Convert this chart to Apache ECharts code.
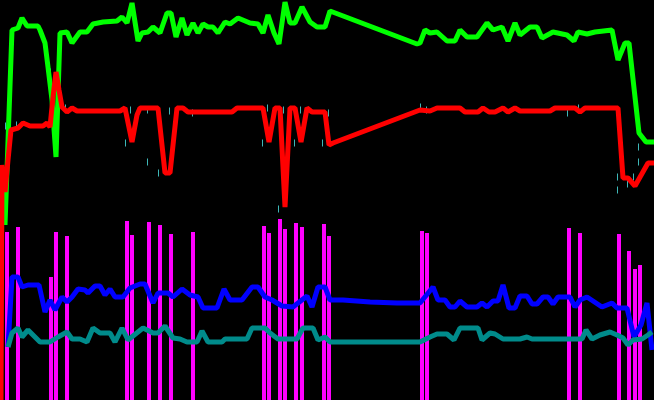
<!DOCTYPE html>
<html>
<head>
<meta charset="utf-8">
<script src="https://cdn.jsdelivr.net/npm/echarts@6/dist/echarts.min.js"></script>
<style>
  html, body { margin: 0; padding: 0; background: #000; }
  #main { width: 654px; height: 400px; }
</style>
</head>
<body>
<div id="main"></div>
<script>
// [x, value] pairs
var greenData = [
  [5, 175], [12, 370], [18, 372], [22, 382], [27, 374], [38, 374], [40, 370], [45, 357],
  [48, 333], [52, 300], [56, 243], [60, 367], [67, 368], [72, 357], [80, 368], [87, 368],
  [93, 376], [103, 378], [117, 379], [122, 383], [127, 377], [132, 397], [138, 359], [142, 367],
  [148, 368], [153, 373], [160, 367], [167, 387], [171, 387], [176, 363], [182, 382], [187, 365],
  [193, 377], [198, 367], [203, 376], [208, 373], [213, 373], [218, 367], [225, 378], [230, 376],
  [238, 382], [250, 377], [258, 376], [263, 367], [268, 385], [274, 367], [279, 356], [285, 398],
  [290, 377], [295, 377], [302, 393], [310, 378], [317, 373], [325, 373], [330, 389], [417, 356],
  [420, 357], [425, 370], [430, 367], [437, 368], [447, 359], [455, 359], [460, 370], [467, 363],
  [477, 363], [487, 377], [493, 370], [502, 373], [508, 359], [515, 377], [520, 365], [530, 373],
  [537, 373], [542, 362], [553, 368], [567, 365], [574, 359], [578, 368], [587, 366], [595, 368],
  [612, 370], [618, 340], [625, 357], [629, 357], [639, 267], [646, 258], [654, 258]
];

var redData = [
  [1, 0], [2, 235], [5, 208], [8, 240], [11, 270], [18, 272], [23, 277], [30, 274],
  [43, 274], [47, 277], [50, 273], [53, 303], [56, 328], [59, 310], [62, 293], [67, 288],
  [72, 292], [77, 289], [120, 289], [125, 292], [132, 258], [137, 285], [140, 292], [158, 292],
  [165, 227], [170, 227], [177, 292], [183, 292], [188, 288], [232, 288], [237, 292], [263, 292],
  [269, 258], [275, 292], [280, 292], [285, 193], [290, 292], [295, 292], [301, 258], [307, 292],
  [312, 288], [325, 288], [329, 255], [333, 257], [420, 290], [430, 289], [437, 292], [460, 292],
  [465, 288], [478, 288], [483, 292], [489, 288], [495, 288], [503, 292], [508, 288], [515, 292],
  [520, 289], [550, 289], [555, 292], [575, 292], [580, 288], [585, 292], [618, 292], [623, 222],
  [628, 222], [635, 214], [648, 237], [654, 237]
];

var blueData = [
  [8, 53], [12, 123], [18, 123], [22, 113], [28, 115], [39, 115], [45, 88], [50, 100],
  [55, 90], [62, 103], [67, 98], [72, 103], [78, 111], [85, 110], [88, 107], [95, 114],
  [100, 114], [105, 105], [110, 111], [115, 103], [123, 103], [130, 112], [140, 116], [145, 116],
  [153, 97], [158, 107], [168, 107], [173, 103], [182, 111], [190, 105], [198, 103], [203, 92],
  [217, 92], [224, 111], [230, 100], [242, 100], [252, 113], [258, 113], [265, 103], [272, 100],
  [282, 94], [293, 93], [307, 104], [312, 93], [318, 113], [325, 113], [330, 100], [343, 100],
  [370, 98], [397, 97], [420, 97], [433, 113], [438, 100], [445, 100], [450, 93], [455, 93],
  [460, 99], [467, 93], [477, 93], [482, 97], [487, 93], [493, 99], [498, 99], [503, 115],
  [509, 92], [515, 92], [520, 104], [527, 104], [532, 96], [537, 96], [543, 103], [548, 103],
  [553, 96], [558, 103], [570, 103], [575, 93], [580, 100], [587, 103], [593, 99], [602, 93],
  [612, 97], [617, 92], [627, 92], [634, 63], [641, 75], [647, 97], [652, 50]
];

var tealData = [
  [8, 53], [12, 67], [18, 72], [22, 63], [28, 70], [40, 58], [50, 58], [58, 63],
  [67, 68], [72, 61], [80, 61], [87, 58], [93, 72], [100, 67], [110, 67], [115, 58],
  [122, 72], [128, 60], [143, 72], [153, 67], [158, 67], [165, 74], [173, 62], [180, 61],
  [187, 58], [197, 58], [202, 69], [208, 58], [222, 58], [225, 61], [247, 61], [252, 72],
  [265, 72], [270, 67], [278, 61], [297, 61], [303, 72], [313, 72], [318, 60], [325, 63],
  [330, 58], [420, 58], [430, 63], [437, 66], [447, 66], [454, 60], [460, 72], [478, 72],
  [482, 60], [490, 67], [495, 66], [503, 61], [520, 61], [527, 63], [532, 61], [582, 61],
  [586, 70], [592, 61], [600, 65], [610, 68], [617, 65], [623, 62], [628, 55], [633, 60],
  [642, 61], [648, 65], [652, 68]
];

var barData = [
  [7, 168], [18, 173], [51, 123], [56, 168], [67, 164], [127, 179], [132, 165], [149, 178],
  [160, 175], [171, 166], [193, 168], [264, 174], [269, 167], [280, 181], [285, 171], [296, 177],
  [302, 173], [324, 176], [329, 164], [422, 169], [427, 167], [569, 172], [580, 167], [619, 166],
  [629, 149], [635, 131], [640, 135]
];

var tickData = [
  [0, 205], [5, 205], [5, 274], [16, 275], [50, 328], [54, 288], [65, 292], [125, 257],
  [130, 290], [147, 290], [147, 238], [158, 227], [169, 289], [192, 287], [262, 257], [267, 292],
  [278, 191], [283, 290], [294, 257], [300, 290], [322, 257], [328, 287], [420, 293], [426, 290],
  [567, 287], [578, 292], [617, 223], [617, 210], [627, 216], [633, 223], [638, 253], [638, 238]
];

var chart = echarts.init(document.getElementById('main'), null, { renderer: 'canvas' });

function lineSeries(data, color) {
  return {
    type: 'line',
    data: data,
    showSymbol: false,
    symbol: 'none',
    lineStyle: { color: color, width: 5 },
    itemStyle: { color: color }
  };
}

var option = {
  backgroundColor: '#000',
  animation: false,
  grid: { left: 0, right: 0, top: 0, bottom: 0 },
  xAxis: {
    type: 'value', min: 0, max: 654, show: false
  },
  yAxis: {
    type: 'value', min: 0, max: 400, show: false
  },
  series: [
    lineSeries(blueData, '#0000ff'),
    lineSeries(tealData, '#008b8b'),
    {
      type: 'bar',
      data: barData,
      barWidth: 4,
      itemStyle: { color: '#ff00ff' }
    },
    lineSeries(greenData, '#00ff00'),
    lineSeries(redData, '#ff0000'),
    {
      // short error marks
      type: 'scatter',
      data: tickData,
      symbol: 'rect',
      symbolSize: [1, 7],
      symbolOffset: [0.5, 0],
      itemStyle: { color: '#4ee6e6' }
    }
  ]
};

chart.setOption(option);
</script>
</body>
</html>
